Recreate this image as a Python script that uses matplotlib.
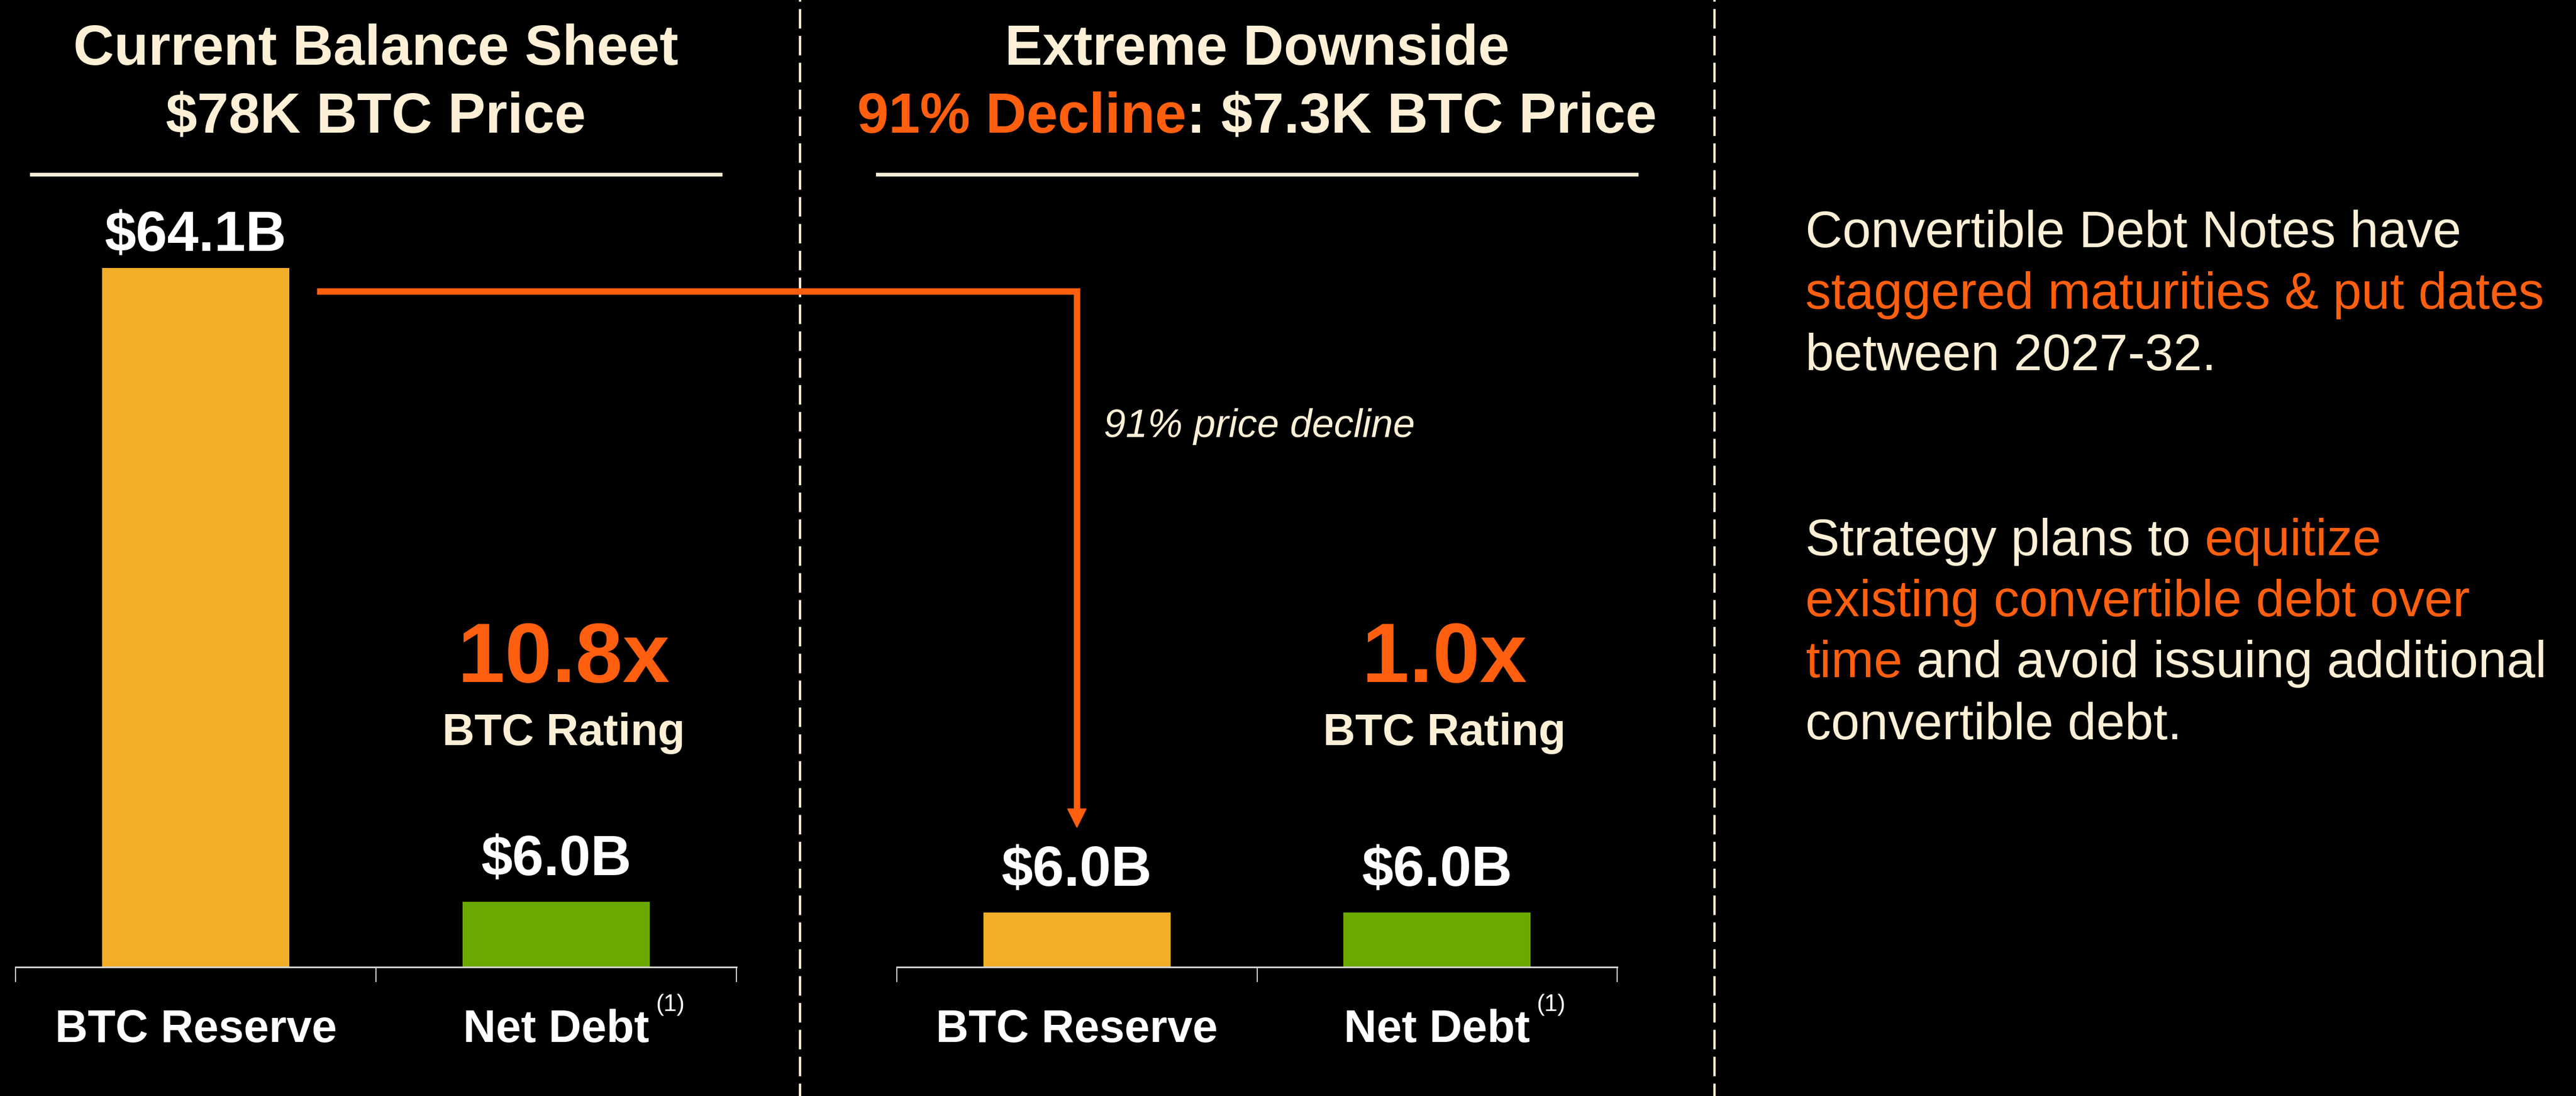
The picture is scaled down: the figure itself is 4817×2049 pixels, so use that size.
import matplotlib
matplotlib.use("Agg")
import matplotlib.pyplot as plt
from matplotlib.lines import Line2D
from matplotlib.patches import Polygon
from matplotlib import transforms

plt.rcParams['font.family'] = ['Liberation Sans', 'DejaVu Sans']

# ---- data ----
categories = ['BTC Reserve', 'Net Debt']
current_values = [64.1, 6.0]     # $B at $78K BTC
downside_values = [6.0, 6.0]     # $B at $7.3K BTC
current_rating = '10.8x'
downside_rating = '1.0x'
current_title = ['Current Balance Sheet', r'\$78K BTC Price']
downside_title = 'Extreme Downside'
decline_label = '91% Decline'
downside_price = r': \$7.3K BTC Price'
arrow_note = '91% price decline'

# ---- colours ----
BG = 'black'
CREAM = '#FDF0D6'
ORANGE = '#FF5F0F'
YELLOW = '#F2AE28'
GREEN = '#6BA900'
AXIS = '#D4D4D4'

W, H = 4817, 2049
fig = plt.figure(figsize=(W / 100, H / 100), dpi=100, facecolor=BG)


def fx(x):
    return x / W


def fy(y):
    return 1 - y / H


axis_y = 1808
ax_h = 1427
ax1 = fig.add_axes([fx(29), fy(axis_y), (1377 - 29) / W, ax_h / H])
ax2 = fig.add_axes([fx(1677), fy(axis_y), (3024 - 1677) / W, ax_h / H])

bar_w = 0.52
xpos = [0.5, 1.5]

for ax, vals, ytop in [(ax1, current_values, 70), (ax2, downside_values, 84)]:
    ax.set_facecolor('none')
    ax.bar(xpos, vals, width=bar_w, color=[YELLOW, GREEN], zorder=2)
    ax.set_xlim(0, 2)
    ax.set_ylim(0, ytop)
    for s in ['left', 'right', 'top']:
        ax.spines[s].set_visible(False)
    ax.spines['bottom'].set_color(AXIS)
    ax.spines['bottom'].set_linewidth(2.2)
    ax.set_yticks([])
    ax.set_xticks(xpos)
    ax.set_xticklabels(categories)
    ax.set_xticks([0, 1, 2], minor=True)
    ax.tick_params(axis='x', which='major', length=0, pad=56,
                   labelsize=61, labelcolor='white')
    ax.tick_params(axis='x', which='minor', length=20, width=1.5, color=AXIS)
    for lab in ax.get_xticklabels():
        lab.set_fontweight('bold')
    for x, v in zip(xpos, vals):
        gap = 36 if v < 10 else 23
        ax.annotate(f'\\${v:.1f}B', (x, v), xytext=(0, gap), textcoords='offset points',
                    ha='center', va='baseline', fontsize=76, fontweight='bold', color='white')

# ratings (sit a touch right of the category centre, as in the slide)
for ax, rating in [(ax1, current_rating), (ax2, downside_rating)]:
    tr = transforms.blended_transform_factory(ax.transData, fig.transFigure)
    tr = transforms.offset_copy(tr, fig=fig, x=10, y=0, units='points')
    ax.text(1.5, fy(1275), rating, transform=tr, ha='center', va='baseline',
            fontsize=114, fontweight='bold', color=ORANGE)
    ax.text(1.5, fy(1393), 'BTC Rating', transform=tr, ha='center', va='baseline',
            fontsize=60, fontweight='bold', color=CREAM)

fig.canvas.draw()
renderer = fig.canvas.get_renderer()


def text_width(s, **kw):
    t = fig.text(0, 0, s, **kw)
    w = t.get_window_extent(renderer).width
    t.remove()
    return w


def draw_runs(x_px, y_px, runs, ha='left', **kw):
    full = ''.join(s for s, c in runs)
    total = text_width(full, **kw)
    start = x_px - total / 2 if ha == 'center' else x_px
    wx = text_width('x', **kw)
    prefix = ''
    for s, c in runs:
        off = text_width(prefix + 'x', **kw) - wx if prefix else 0
        fig.text((start + off) / W, fy(y_px), s, color=c, ha='left', va='baseline', **kw)
        prefix += s


# titles
title_kw = dict(fontsize=76, fontweight='bold')
c1 = ax1.transAxes.transform((0.5, 0))[0]
c2 = ax2.transAxes.transform((0.5, 0))[0]
draw_runs(c1, 121, [(current_title[0], CREAM)], ha='center', **title_kw)
draw_runs(c1, 248, [(current_title[1], CREAM)], ha='center', **title_kw)
draw_runs(c2, 121, [(downside_title, CREAM)], ha='center', **title_kw)
draw_runs(c2, 248, [(decline_label, ORANGE), (downside_price, CREAM)], ha='center', **title_kw)

# title underlines
for x0, x1 in [(59, 1347), (1641, 3060)]:
    fig.add_artist(Line2D([fx(x0), fx(x1)], [fy(326), fy(326)], color=CREAM,
                          lw=5, transform=fig.transFigure))

# dashed separators
for x in [1496, 3206]:
    fig.add_artist(Line2D([fx(x), fx(x)], [1, 0], color=CREAM, lw=3.2,
                          linestyle=(7.5, (8.2, 3.1)), transform=fig.transFigure))

# superscript (1) next to Net Debt
for ax in [ax1, ax2]:
    bb = ax.get_xticklabels()[1].get_window_extent(renderer)
    fig.text((bb.x1 + 12) / W, fy(1890), '(1)', ha='left', va='baseline',
             fontsize=32, color='white')

# arrow from current BTC reserve to downside BTC reserve
ident = transforms.IdentityTransform()
xs = ax1.transData.transform((0.5 + bar_w / 2, 0))[0] + 52
ys = ax1.transData.transform((0, current_values[0]))[1] - 44
xe = ax2.transData.transform((0.5, 0))[0]
ytip = ax2.transData.transform((0, downside_values[0]))[1] + 159
head = 35
fig.add_artist(Line2D([xs, xe, xe], [ys, ys, ytip + head], color=ORANGE, lw=8.6,
                      solid_joinstyle='miter', solid_capstyle='butt', transform=ident))
fig.add_artist(Polygon([[xe - head / 2, ytip + head], [xe + head / 2, ytip + head], [xe, ytip]],
                       closed=True, color=ORANGE, transform=ident))
fig.text(fx(xe + 50), fy(817), arrow_note, ha='left', va='baseline', fontsize=53,
         style='italic', color=CREAM)

# right-hand commentary
para_kw = dict(fontsize=69)
right_lines = [
    [('Convertible Debt Notes have', CREAM)],
    [('staggered maturities & put dates', ORANGE)],
    [('between 2027-32.', CREAM)],
    [('Strategy plans to ', CREAM), ('equitize', ORANGE)],
    [('existing convertible debt over', ORANGE)],
    [('time', ORANGE), (' and avoid issuing additional', CREAM)],
    [('convertible debt.', CREAM)],
]
baselines = [462, 577, 692, 1038, 1152, 1266, 1382]
for runs, yb in zip(right_lines, baselines):
    draw_runs(3376, yb, runs, **para_kw)

fig.savefig('out.png', dpi=100, facecolor=BG)
